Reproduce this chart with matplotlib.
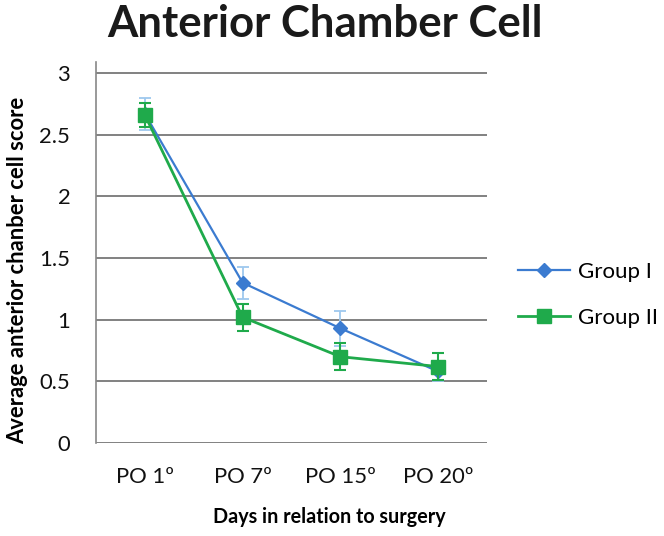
import matplotlib
matplotlib.use("Agg")
import matplotlib.pyplot as plt

categories = ["PO 1º", "PO 7º", "PO 15º", "PO 20º"]
group1 = [2.67, 1.30, 0.93, 0.58]
group1_err = [0.13, 0.13, 0.14, 0.08]
group2 = [2.66, 1.02, 0.70, 0.62]
group2_err = [0.10, 0.11, 0.11, 0.11]
yticks = [0, 0.5, 1, 1.5, 2, 2.5, 3]
ytick_labels = ["0", "0.5", "1", "1.5", "2", "2.5", "3"]

plt.rcParams['font.family'] = ['Lato', 'DejaVu Sans']

W, H = 664, 536
fig = plt.figure(figsize=(6.64, 5.36), dpi=100)
ax_l, ax_r, ax_b, ax_t = 96, 487, 443, 62
ax = fig.add_axes([ax_l/W, 1-ax_b/H, (ax_r-ax_l)/W, (ax_b-ax_t)/H])

x = list(range(len(categories)))
blue = "#3B7BD0"
green = "#1FAA4B"

e1 = ax.errorbar(x, group1, yerr=group1_err, color=blue, ecolor="#9EC8EE", elinewidth=1.3,
                 capsize=4.3, capthick=1.3, marker="D", markersize=7.5, lw=1.6, label="Group I", zorder=3)
e2 = ax.errorbar(x, group2, yerr=group2_err, color=green, ecolor=green, elinewidth=1.5,
                 capsize=4.3, capthick=1.5, marker="s", markersize=10.5, lw=2.0, label="Group II", zorder=4)

ax.set_xlim(-0.5, 3.5)
ax.set_ylim(0, 3.09)
ax.set_yticks(yticks)
ax.set_yticklabels(ytick_labels)
ax.set_xticks(x)
ax.set_xticklabels(categories)
ax.tick_params(axis='both', length=0, labelsize=15.8, colors="#111111")
ax.tick_params(axis='x', pad=17)
ax.tick_params(axis='y', pad=18.5)
for yv in yticks:
    ax.axhline(yv, color="#777777", lw=1.3, zorder=1)
for s in ["top", "right", "bottom"]:
    ax.spines[s].set_visible(False)
ax.spines["left"].set_color("#888888")
ax.spines["left"].set_linewidth(1.2)

ax.set_ylabel("Average anterior chanber cell score", fontsize=15.8, fontweight="bold")
ax.yaxis.label.set_va("center")
ax.yaxis.set_label_coords((18-ax_l)/(ax_r-ax_l), (ax_b-270)/(ax_b-ax_t))
ax.set_xlabel("Days in relation to surgery", fontsize=14.2, fontweight="bold")
ax.xaxis.label.set_va("baseline")
ax.xaxis.set_label_coords((329-ax_l)/(ax_r-ax_l), -(523-ax_b)/(ax_b-ax_t))

fig.text(325/W, 1-37/H, "Anterior Chamber Cell", ha="center", va="baseline",
         fontsize=31.5, fontweight="bold", color="#1a1a1a")

fig.legend([e1[0], e2[0]], ["Group I", "Group II"], loc="center left",
           bbox_to_anchor=(509/W, 1-295/H), frameon=False,
           fontsize=16, handlelength=2.36, handletextpad=0.35, labelspacing=1.18,
           borderaxespad=0)

fig.savefig("out.png", dpi=100)
